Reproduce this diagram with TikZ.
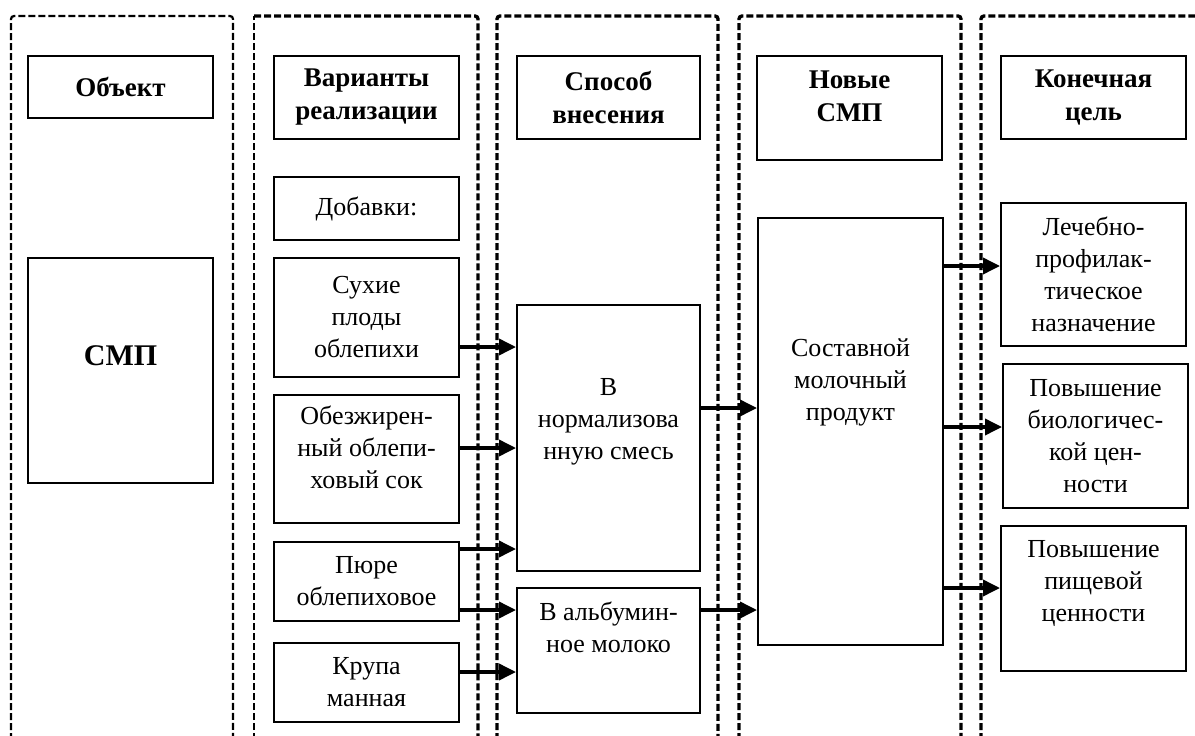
\documentclass[tikz,border=0pt]{standalone}
\usepackage{fontspec}
\setmainfont{Liberation Serif}
\usetikzlibrary{arrows.meta}

\tikzset{
  box/.style={draw, line width=2pt, inner sep=0pt, align=center, minimum width=185pt, font=\fontsize{26}{32}\selectfont},
  head/.style={font=\fontsize{27}{33}\selectfont\bfseries},
  txt/.style={inner sep=0pt, align=center, font=\fontsize{26}{32}\selectfont},
  col/.style={dash pattern=on 7pt off 3pt, line width=3.4pt, rounded corners=3pt},
  thincol/.style={col, line width=2.2pt},
  arr/.style={line width=3.6pt, -{Triangle[length=17pt,width=16pt]}}
}

\begin{document}
\begin{tikzpicture}[x=1pt,y=-1pt]
\useasboundingbox (0,0) rectangle (1195,736);
\draw[thincol] (11,740)--(11,16)--(233,16)--(233,740);
\draw[thincol] (254,740)--(254,16);
\draw[col] (254,16)--(478,16)--(478,740);
\foreach \l/\r in {497/718, 739/961, 981/1205}{
\draw[col] (\l,740)--(\l,16)--(\r,16)--(\r,740);
}
\node[box, head, minimum height=62pt] (obj) at (120.5,87) {Объект};
\node[box, minimum height=225pt] (smp) at (120.5,370.5) {};
\node[font=\fontsize{30}{36}\selectfont\bfseries, inner sep=0pt] (smp-t) at ([yshift=15pt]smp.center) {СМП};
\node[box, head, minimum height=83pt] (var) at (366.5,97.5) {Варианты\\реализации};
\node[box, minimum height=63pt] (dob) at (366.5,208.5) {Добавки:};
\node[box, minimum height=119pt] (suh) at (366.5,317.5) {Сухие\\плоды\\облепихи};
\node[box, minimum height=128pt] (obz) at (366.5,459) {};
\node[txt] (obz-t) at ([yshift=12pt]obz.center) {Обезжирен-\\ный облепи-\\ховый сок};
\node[box, minimum height=79pt] (pur) at (366.5,581.5) {Пюре\\облепиховое};
\node[box, minimum height=79pt] (kru) at (366.5,682.5) {Крупа\\манная};
\node[box, head, minimum width=183pt, minimum height=83pt] (spo) at (608.5,97.5) {Способ\\внесения};
\node[box, minimum width=183pt, minimum height=266pt] (norm) at (608.5,438) {};
\node[txt] (norm-t) at ([yshift=16pt]norm.center) {В\\нормализова\\нную смесь};
\node[box, minimum width=183pt, minimum height=125pt] (alb) at (608.5,650.5) {};
\node[txt] (alb-t) at ([yshift=23pt]alb.center) {В альбумин-\\ное молоко};
\node[box, minimum height=104pt] (nov) at (849.5,108) {};
\node[txt, head] (nov-t) at ([yshift=12pt]nov.center) {Новые\\СМП};
\node[box, minimum height=427pt] (sost) at (850.5,431.5) {};
\node[txt] (sost-t) at ([yshift=49pt]sost.center) {Составной\\молочный\\продукт};
\node[box, head, minimum height=83pt] (kon) at (1093.5,97.5) {Конечная\\цель};
\node[box, minimum height=143pt] (lech) at (1093.5,274.5) {Лечебно-\\профилак-\\тическое\\назначение};
\node[box, minimum height=144pt] (bio) at (1095.5,436) {Повышение\\биологичес-\\кой цен-\\ности};
\node[box, minimum height=145pt] (pish) at (1093.5,598.5) {};
\node[txt] (pish-t) at ([yshift=15pt]pish.center) {Повышение\\пищевой\\ценности};
\draw[arr] ([xshift=-2pt]suh.east |- 0,347) -- (norm.west |- 0,347);
\draw[arr] ([xshift=-2pt]obz.east |- 0,448) -- (norm.west |- 0,448);
\draw[arr] ([xshift=-2pt]pur.east |- 0,549) -- (norm.west |- 0,549);
\draw[arr] ([xshift=-2pt]pur.east |- 0,610) -- (alb.west |- 0,610);
\draw[arr] ([xshift=-2pt]kru.east |- 0,672) -- (alb.west |- 0,672);
\draw[arr] ([xshift=-2pt]norm.east |- 0,408) -- (sost.west |- 0,408);
\draw[arr] ([xshift=-2pt]alb.east |- 0,610) -- (sost.west |- 0,610);
\draw[arr] ([xshift=-2pt]sost.east |- 0,266) -- (lech.west |- 0,266);
\draw[arr] ([xshift=-2pt]sost.east |- 0,427) -- (bio.west |- 0,427);
\draw[arr] ([xshift=-2pt]sost.east |- 0,588) -- (pish.west |- 0,588);
\end{tikzpicture}
\end{document}
